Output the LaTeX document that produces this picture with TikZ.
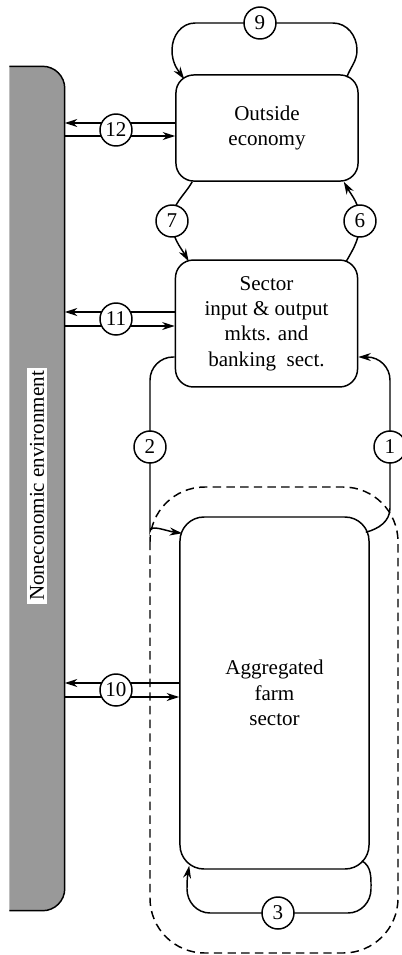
\documentclass[tikz,border=0pt]{standalone}
\usepackage{fontspec}
\setmainfont{Liberation Serif}
\usetikzlibrary{positioning,calc,arrows.meta,backgrounds}
\definecolor{envgray}{gray}{0.6}

\begin{document}
\begin{tikzpicture}[x=0.475pt,y=0.475pt,>={Stealth[length=6pt,width=3.8pt]},
                line width=0.7pt,
                box/.style={draw,rounded corners=8.5pt,align=center,minimum width=86.5pt},
                num/.style={draw,circle,fill=white,inner sep=0pt,minimum size=15.2pt},
                flow/.style={->,line width=0.7pt},
                group/.style={dash pattern=on 4pt off 2.5pt,rounded corners=26pt}]
\useasboundingbox (0,0) rectangle (402,-955);

\node[box, minimum height=50.4pt] (out)  at (267,-128)   {Outside\\economy};
\node[box, minimum height=60.3pt] (sec)  at (266.5,-323.5) {Sector\\input \& output\\mkts. and\\banking\ \ sect.};
\node[box, minimum width=89.8pt, minimum height=167.2pt, rounded corners=11.4pt]
                                  (farm) at (274.5,-693) {Aggregated\\farm\\sector};

% noneconomic environment bar
\node[minimum width=25.65pt, minimum height=400.4pt, inner sep=0pt] (env) at (37,-488.5) {};
\draw[fill=envgray, rounded corners=10.5pt] (env.north west) -- (env.north east) -- (env.south east) -- (env.south west);
\node[fill=white, rotate=90, inner sep=1.5pt] (envlabel) at ($(env.center)+(0,2.5)$) {Noneconomic environment};

\node[num] (c9)  at (260,-23)  {9};
\node[num] (c12) at (116,-130) {12};
\node[num] (c7)  at (172,-221) {7};
\node[num] (c6)  at (360,-221) {6};
\node[num] (c11) at (116,-319) {11};
\node[num] (c2)  at (150,-447) {2};
\node[num] (c1)  at (390,-447) {1};
\node[num] (c10) at (116,-690) {10};
\node[num] (c3)  at (278,-913) {3};

\draw[group] (150,-487) rectangle (398,-953);

\coordinate (o12a) at ($(out.west)+(0,5)$);
\coordinate (o12b) at ($(out.west)+(0,-8)$);
\coordinate (s11a) at ($(sec.west)+(0,11.5)$);
\coordinate (s11b) at ($(sec.west)+(0,-2.5)$);
\coordinate (f10a) at ($(farm.west)+(0,10)$);
\coordinate (f10b) at ($(farm.west)+(0,-4)$);

\begin{scope}[on background layer]
\draw[flow] ($(out.north east)+(-12,-3)$) to[out=70,in=-90] (357,-50)
          to[out=90,in=0] (333,-23) -- (c9.center) -- (195,-23)
          to[out=180,in=90] (172,-50) to[out=-90,in=125] ($(out.north west)+(9,-5)$);
\draw[flow] ($(out.south west)+(17,0)$) to[out=-120,in=90] (c7.center)
          to[out=-90,in=120] ($(sec.north west)+(14,-2)$);
\draw[flow] ($(sec.north east)+(-12,-2)$) to[out=60,in=-90] (c6.center)
          to[out=90,in=-60] ($(out.south east)+(-15,0)$);

\draw[flow] (o12a) -- (env.east |- o12a);
\draw[flow] (env.east |- o12b) -- (o12b);
\draw[flow] (s11a) -- (env.east |- s11a);
\draw[flow] (env.east |- s11b) -- (s11b);
\draw[flow] (f10a) -- (env.east |- f10a);
\draw[flow] (env.east |- f10b) -- (f10b);

\draw[flow] ($(sec.west)+(0,-33.5)$) [rounded corners=11pt] -| (c2.center) -- (150,-508)
          [sharp corners] to[out=-90,in=172] ($(farm.north west)+(3,-17)$);
\draw[flow] ($(farm.north east)+(-4,-16)$) to[out=15,in=-90] (390,-508)
          [rounded corners=11pt] -- (c1.center) |- ($(sec.east)+(0,-33.5)$);

\draw[flow] ($(farm.south east)+(-8,9)$) to[out=-30,in=90] (371,-889)
          to[out=-90,in=0] (348,-913) -- (c3.center) -- (210,-913)
          to[out=180,in=-90] (187,-889) to[out=90,in=-100] ($(farm.south west)+(10,4)$);
\end{scope}
\end{tikzpicture}
\end{document}
